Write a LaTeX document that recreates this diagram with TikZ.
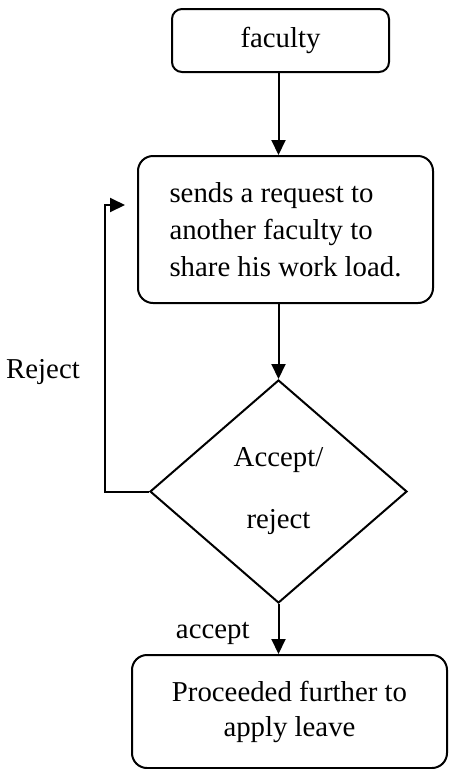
\documentclass[tikz,border=0pt]{standalone}
\usepackage{fontspec}
\setmainfont{Liberation Serif}
\usetikzlibrary{positioning}
\usetikzlibrary{arrows.meta,shapes.geometric}
\tikzstyle{stepbox}=[draw,rounded corners=15pt,line width=2pt,inner sep=0pt]
\tikzstyle{decision}=[draw,diamond,line width=2pt,inner sep=0pt,align=center]
\tikzstyle{edge} = [draw,line width=2pt,-{Triangle[length=15pt,width=14pt]}]
\tikzstyle{weight} = [inner sep=0pt]

\begin{document}
\begin{tikzpicture}[x=1pt,y=-1pt,font=\fontsize{28.8}{37}\selectfont]

    \useasboundingbox (0,0) rectangle (448,769);

    \node[stepbox,rounded corners=10pt,minimum width=217pt,minimum height=63pt] (faculty) at (280.5,40.5) {faculty};
    \node[stepbox,minimum width=295pt,minimum height=147pt,align=left] (request) at (285.5,229.5) {sends a request to\\another faculty to\\share his work load.};
    \node[decision,minimum width=257pt,minimum height=223pt] (choice) at (278.5,491.5) {Accept/\\[25pt]reject};
    \node[stepbox,minimum width=315pt,minimum height=113pt,align=center] (leave) at (289.5,711.5) {Proceeded further to\\[-2pt]apply leave};

    \coordinate (back) at (125,205);
    \node[weight] (rejectlabel) at (43,372) {Reject};

    \foreach \source/ \dest /\weight in {faculty/request/{}, request/choice/{}, choice/leave/accept}
        \path[edge] (\source.south -| choice.center) -- node[weight,pos=0.58,left=28pt] {\weight} (\dest.north -| choice.center);

    \path[edge] (choice.west) -- ++(-44,0) |- (back);

\end{tikzpicture}
\end{document}
